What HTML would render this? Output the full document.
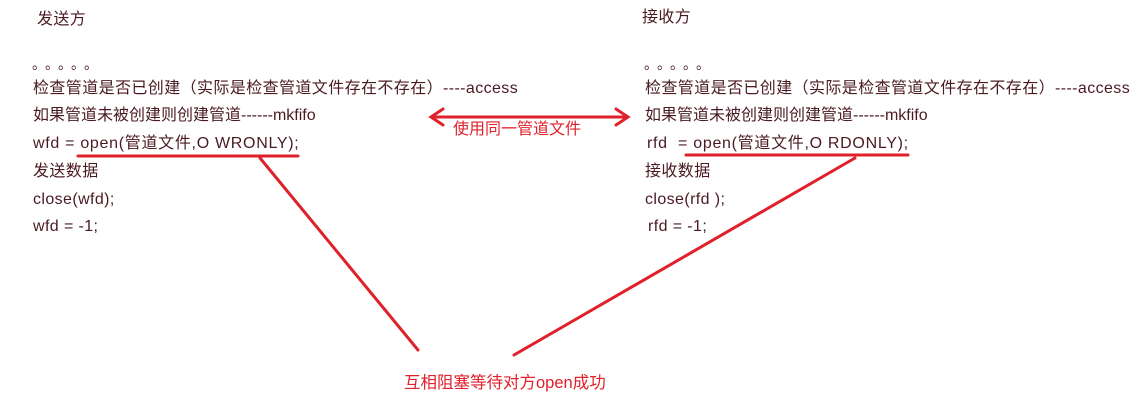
<!DOCTYPE html>
<html><head><meta charset="utf-8"><style>
body{margin:0;width:1146px;height:404px;background:#fff;position:relative;overflow:hidden;font-family:"Liberation Sans","Noto Sans CJK SC",sans-serif;}
.t{position:absolute;font-size:16px;color:#4a1a22;white-space:nowrap;line-height:20px;letter-spacing:0.4px;}
.r{position:absolute;font-size:16px;color:#e0202a;white-space:nowrap;line-height:20px;}
.d{letter-spacing:6px;font-size:14px}
</style></head><body>
<div class="t" style="left:37px;top:10px">发送方</div>
<div class="t d" style="left:32px;top:54px">。。。。。</div>
<div class="t" style="left:33px;top:79px">检查管道是否已创建（实际是检查管道文件存在不存在）----access</div>
<div class="t" style="left:33px;top:106px;letter-spacing:0">如果管道未被创建则创建管道------mkfifo</div>
<div class="t" style="left:33px;top:134px;letter-spacing:0.7px">wfd = open(管道文件,O WRONLY);</div>
<div class="t" style="left:33px;top:162px">发送数据</div>
<div class="t" style="left:33px;top:190px">close(wfd);</div>
<div class="t" style="left:33px;top:217px">wfd = -1;</div>

<div class="t" style="left:642px;top:8px">接收方</div>
<div class="t d" style="left:644px;top:54px">。。。。。</div>
<div class="t" style="left:645px;top:79px">检查管道是否已创建（实际是检查管道文件存在不存在）----access</div>
<div class="t" style="left:645px;top:106px;letter-spacing:0">如果管道未被创建则创建管道------mkfifo</div>
<div class="t" style="left:647px;top:134px;letter-spacing:0.7px">rfd &nbsp;= open(管道文件,O RDONLY);</div>
<div class="t" style="left:645px;top:162px">接收数据</div>
<div class="t" style="left:645px;top:190px">close(rfd );</div>
<div class="t" style="left:648px;top:217px">rfd = -1;</div>

<div class="r" style="left:453px;top:120px">使用同一管道文件</div>
<div class="r" style="left:404px;top:373px;font-size:16.5px">互相阻塞等待对方open成功</div>

<svg width="1146" height="404" style="position:absolute;left:0;top:0">
<g stroke="#e0202a" stroke-width="3" fill="none" stroke-linecap="round">
<line x1="78" y1="156" x2="298" y2="156"/>
<line x1="686" y1="155" x2="908" y2="155"/>
<line x1="260" y1="158" x2="418" y2="350"/>
<line x1="855" y1="158" x2="514" y2="355"/>
<line x1="433" y1="117" x2="626" y2="117"/>
<polyline points="443,109 431,117 443,125"/>
<polyline points="616,109 628,117 616,125"/>
</g>
</svg>
</body></html>
